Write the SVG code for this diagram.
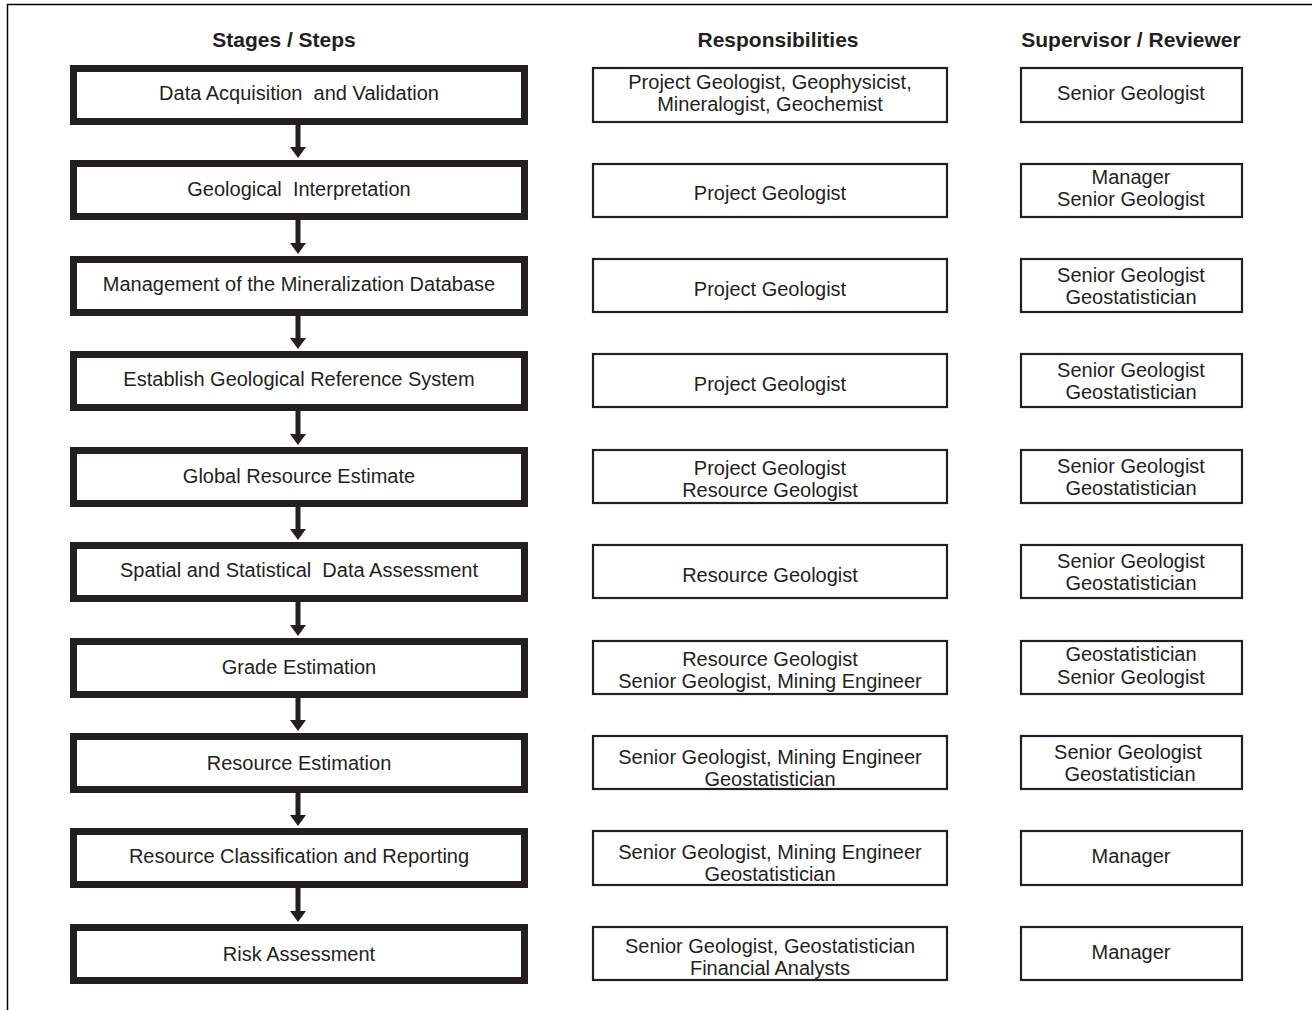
<svg xmlns="http://www.w3.org/2000/svg" width="1312" height="1010" viewBox="0 0 1312 1010">
<style>
text{font-family:"Liberation Sans",Arial,sans-serif;fill:#231f20;text-anchor:middle}
.h{font-size:21px;font-weight:bold}
.t{font-size:20px}
.stage{fill:#fff;stroke:#231f20;stroke-width:7}
.box{fill:#fff;stroke:#231f20;stroke-width:2.2}
.shaft{stroke:#231f20;stroke-width:5}
.head{fill:#231f20}
</style>
<rect width="1312" height="1010" fill="#fff"/>
<path d="M7.5 1010 V4.5 H1312" fill="none" stroke="#000" stroke-width="1.5"/>
<g id="headers">
<text class="h" x="284" y="47">Stages / Steps</text>
<text class="h" x="778" y="47">Responsibilities</text>
<text class="h" x="1131" y="47">Supervisor / Reviewer</text>
</g>
<g id="connectors">
<line class="shaft" x1="298" y1="125" x2="298" y2="148"/><polygon class="head" points="290,147 306,147 298,158"/>
<line class="shaft" x1="298" y1="220" x2="298" y2="244"/><polygon class="head" points="290,243 306,243 298,254"/>
<line class="shaft" x1="298" y1="316" x2="298" y2="339"/><polygon class="head" points="290,338 306,338 298,349"/>
<line class="shaft" x1="298" y1="411" x2="298" y2="435"/><polygon class="head" points="290,434 306,434 298,445"/>
<line class="shaft" x1="298" y1="507" x2="298" y2="530"/><polygon class="head" points="290,529 306,529 298,540"/>
<line class="shaft" x1="298" y1="602" x2="298" y2="626"/><polygon class="head" points="290,625 306,625 298,636"/>
<line class="shaft" x1="298" y1="698" x2="298" y2="721"/><polygon class="head" points="290,720 306,720 298,731"/>
<line class="shaft" x1="298" y1="793" x2="298" y2="816"/><polygon class="head" points="290,815 306,815 298,826"/>
<line class="shaft" x1="298" y1="888" x2="298" y2="912"/><polygon class="head" points="290,911 306,911 298,922"/>
</g>
<g id="stage1"><rect class="stage" x="73.5" y="68.5" width="451" height="53"/><text class="t" x="299" y="100" xml:space="preserve">Data Acquisition  and Validation</text></g>
<g id="stage2"><rect class="stage" x="73.5" y="163.5" width="451" height="53"/><text class="t" x="299" y="196" xml:space="preserve">Geological  Interpretation</text></g>
<g id="stage3"><rect class="stage" x="73.5" y="259.5" width="451" height="53"/><text class="t" x="299" y="291">Management of the Mineralization Database</text></g>
<g id="stage4"><rect class="stage" x="73.5" y="354.5" width="451" height="53"/><text class="t" x="299" y="386">Establish Geological Reference System</text></g>
<g id="stage5"><rect class="stage" x="73.5" y="450.5" width="451" height="53"/><text class="t" x="299" y="483">Global Resource Estimate</text></g>
<g id="stage6"><rect class="stage" x="73.5" y="545.5" width="451" height="53"/><text class="t" x="299" y="577" xml:space="preserve">Spatial and Statistical  Data Assessment</text></g>
<g id="stage7"><rect class="stage" x="73.5" y="641.5" width="451" height="53"/><text class="t" x="299" y="674">Grade Estimation</text></g>
<g id="stage8"><rect class="stage" x="73.5" y="736.5" width="451" height="53"/><text class="t" x="299" y="770">Resource Estimation</text></g>
<g id="stage9"><rect class="stage" x="73.5" y="831.5" width="451" height="53"/><text class="t" x="299" y="863">Resource Classification and Reporting</text></g>
<g id="stage10"><rect class="stage" x="73.5" y="927.5" width="451" height="53"/><text class="t" x="299" y="961">Risk Assessment</text></g>

<g id="resp1"><rect class="box" x="593" y="68" width="354" height="54"/><text class="t" x="770" y="89">Project Geologist, Geophysicist,</text><text class="t" x="770" y="111">Mineralogist, Geochemist</text></g>
<g id="resp2"><rect class="box" x="593" y="164" width="354" height="53"/><text class="t" x="770" y="200">Project Geologist</text></g>
<g id="resp3"><rect class="box" x="593" y="259" width="354" height="53"/><text class="t" x="770" y="296">Project Geologist</text></g>
<g id="resp4"><rect class="box" x="593" y="354" width="354" height="53"/><text class="t" x="770" y="391">Project Geologist</text></g>
<g id="resp5"><rect class="box" x="593" y="450" width="354" height="53"/><text class="t" x="770" y="475">Project Geologist</text><text class="t" x="770" y="497">Resource Geologist</text></g>
<g id="resp6"><rect class="box" x="593" y="545" width="354" height="53"/><text class="t" x="770" y="582">Resource Geologist</text></g>
<g id="resp7"><rect class="box" x="593" y="641" width="354" height="53"/><text class="t" x="770" y="666">Resource Geologist</text><text class="t" x="770" y="688">Senior Geologist, Mining Engineer</text></g>
<g id="resp8"><rect class="box" x="593" y="736" width="354" height="53"/><text class="t" x="770" y="764">Senior Geologist, Mining Engineer</text><text class="t" x="770" y="786">Geostatistician</text></g>
<g id="resp9"><rect class="box" x="593" y="831" width="354" height="54"/><text class="t" x="770" y="859">Senior Geologist, Mining Engineer</text><text class="t" x="770" y="881">Geostatistician</text></g>
<g id="resp10"><rect class="box" x="593" y="927" width="354" height="53"/><text class="t" x="770" y="953">Senior Geologist, Geostatistician</text><text class="t" x="770" y="975">Financial Analysts</text></g>

<g id="sup1"><rect class="box" x="1021" y="68" width="221" height="54"/><text class="t" x="1131" y="100">Senior Geologist</text></g>
<g id="sup2"><rect class="box" x="1021" y="164" width="221" height="53"/><text class="t" x="1131" y="184">Manager</text><text class="t" x="1131" y="206">Senior Geologist</text></g>
<g id="sup3"><rect class="box" x="1021" y="259" width="221" height="53"/><text class="t" x="1131" y="282">Senior Geologist</text><text class="t" x="1131" y="304">Geostatistician</text></g>
<g id="sup4"><rect class="box" x="1021" y="354" width="221" height="53"/><text class="t" x="1131" y="377">Senior Geologist</text><text class="t" x="1131" y="399">Geostatistician</text></g>
<g id="sup5"><rect class="box" x="1021" y="450" width="221" height="53"/><text class="t" x="1131" y="473">Senior Geologist</text><text class="t" x="1131" y="495">Geostatistician</text></g>
<g id="sup6"><rect class="box" x="1021" y="545" width="221" height="53"/><text class="t" x="1131" y="568">Senior Geologist</text><text class="t" x="1131" y="590">Geostatistician</text></g>
<g id="sup7"><rect class="box" x="1021" y="641" width="221" height="53"/><text class="t" x="1131" y="661">Geostatistician</text><text class="t" x="1131" y="684">Senior Geologist</text></g>
<g id="sup8"><rect class="box" x="1021" y="736" width="221" height="53"/><text class="t" x="1128" y="759">Senior Geologist</text><text class="t" x="1130" y="781">Geostatistician</text></g>
<g id="sup9"><rect class="box" x="1021" y="831" width="221" height="54"/><text class="t" x="1131" y="863">Manager</text></g>
<g id="sup10"><rect class="box" x="1021" y="927" width="221" height="53"/><text class="t" x="1131" y="959">Manager</text></g>
</svg>
